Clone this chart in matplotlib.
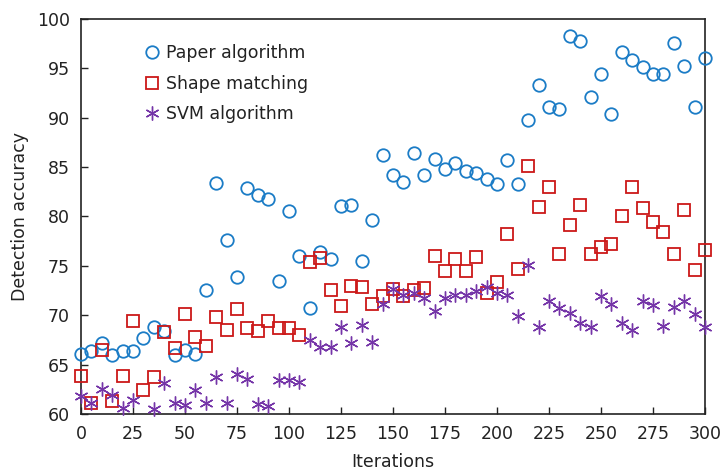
import matplotlib
matplotlib.use("Agg")
import matplotlib.pyplot as plt
import numpy as np

iterations = list(range(0, 301, 5))

paper = [66.1, 66.4, 67.2, 66.0, 66.4, 66.4, 67.7, 68.8, 68.4, 66.0,
         66.5, 66.1, 72.5, 83.4, 77.6, 73.9, 82.9, 82.2, 81.8, 73.5,
         80.5, 76.0, 70.7, 76.4, 75.7, 81.1, 81.2, 75.5, 79.6, 86.2,
         84.2, 83.5, 86.4, 84.2, 85.8, 84.8, 85.4, 84.6, 84.4, 83.8,
         83.3, 85.7, 83.3, 89.8, 93.3, 91.1, 90.9, 98.3, 97.8, 92.1,
         94.4, 90.4, 96.6, 95.8, 95.1, 94.4, 94.4, 97.6, 95.2, 91.1,
         96.05]

shape = [63.85, 61.1, 66.5, 61.3, 63.8, 69.4, 62.4, 63.7, 68.3, 66.65,
         70.1, 67.8, 66.9, 69.8, 68.5, 70.6, 68.7, 68.35, 69.4, 68.7,
         68.7, 68.0, 75.4, 75.8, 72.5, 70.9, 73.0, 72.8, 71.1, 71.9,
         72.6, 71.9, 72.5, 72.7, 76.0, 74.5, 75.7, 74.5, 75.9, 72.2,
         73.4, 78.2, 74.65, 85.1, 81.0, 83.0, 76.2, 79.1, 81.2, 76.2,
         76.9, 77.2, 80.0, 83.0, 80.9, 79.4, 78.4, 76.2, 80.6, 74.6,
         76.6]

# value at iteration 30 is not visible in the chart (missing)
svm = [61.8, 61.15, 62.5, 61.9, 60.55, 61.4, np.nan, 60.5, 63.1, 61.15,
       60.9, 62.4, 61.15, 63.7, 61.15, 64.05, 63.5, 61.0, 60.8, 63.4,
       63.4, 63.2, 67.5, 66.8, 66.8, 68.8, 67.2, 69.0, 67.3, 71.1,
       72.6, 72.0, 72.2, 71.7, 70.4, 71.7, 72.05, 72.0, 72.4, 72.9,
       72.2, 72.0, 69.9, 75.1, 68.8, 71.4, 70.7, 70.2, 69.2, 68.8,
       71.9, 71.1, 69.2, 68.5, 71.4, 71.0, 68.9, 70.8, 71.4, 70.1,
       68.8]

xticks = list(range(0, 301, 25))
yticks = list(range(60, 101, 5))

plt.rcParams['font.family'] = ['DejaVu Sans']

fig = plt.figure(figsize=(7.23, 4.73), dpi=100)
ax = fig.add_axes([0.112, 0.125, 0.863, 0.835])

ax.plot(iterations, paper, linestyle='none', marker='o', markersize=9,
        markerfacecolor='none', markeredgecolor='#1b7cc6', markeredgewidth=1.3,
        label='Paper algorithm', clip_on=False, zorder=3)
ax.plot(iterations, shape, linestyle='none', marker='s', markersize=9,
        markerfacecolor='none', markeredgecolor='#cc1818', markeredgewidth=1.3,
        label='Shape matching', clip_on=False, zorder=3)
ax.plot(iterations, svm, linestyle='none', marker=(6, 2, 0), markersize=10,
        markerfacecolor='none', markeredgecolor='#7535a8', markeredgewidth=1.0,
        label='SVM algorithm', clip_on=False, zorder=3)

ax.set_xlim(0, 300)
ax.set_ylim(60, 100)
ax.set_xticks(xticks)
ax.set_yticks(yticks)
ax.tick_params(direction='in', length=5, width=1, labelsize=12.5, pad=8,
               colors='#222222')
for s in ax.spines.values():
    s.set_linewidth(1.2)
    s.set_color('#222222')

ax.set_xlabel('Iterations', fontsize=12.5, labelpad=7, color='#222222')
ax.set_ylabel('Detection accuracy', fontsize=12.5, labelpad=6, color='#222222')

leg = ax.legend(loc='upper left', bbox_to_anchor=(0.075, 0.975), frameon=False,
                fontsize=12.5, handletextpad=0.3, labelspacing=0.72,
                handlelength=1.0)
for t in leg.get_texts():
    t.set_color('#222222')

fig.savefig('out.png', dpi=100)
